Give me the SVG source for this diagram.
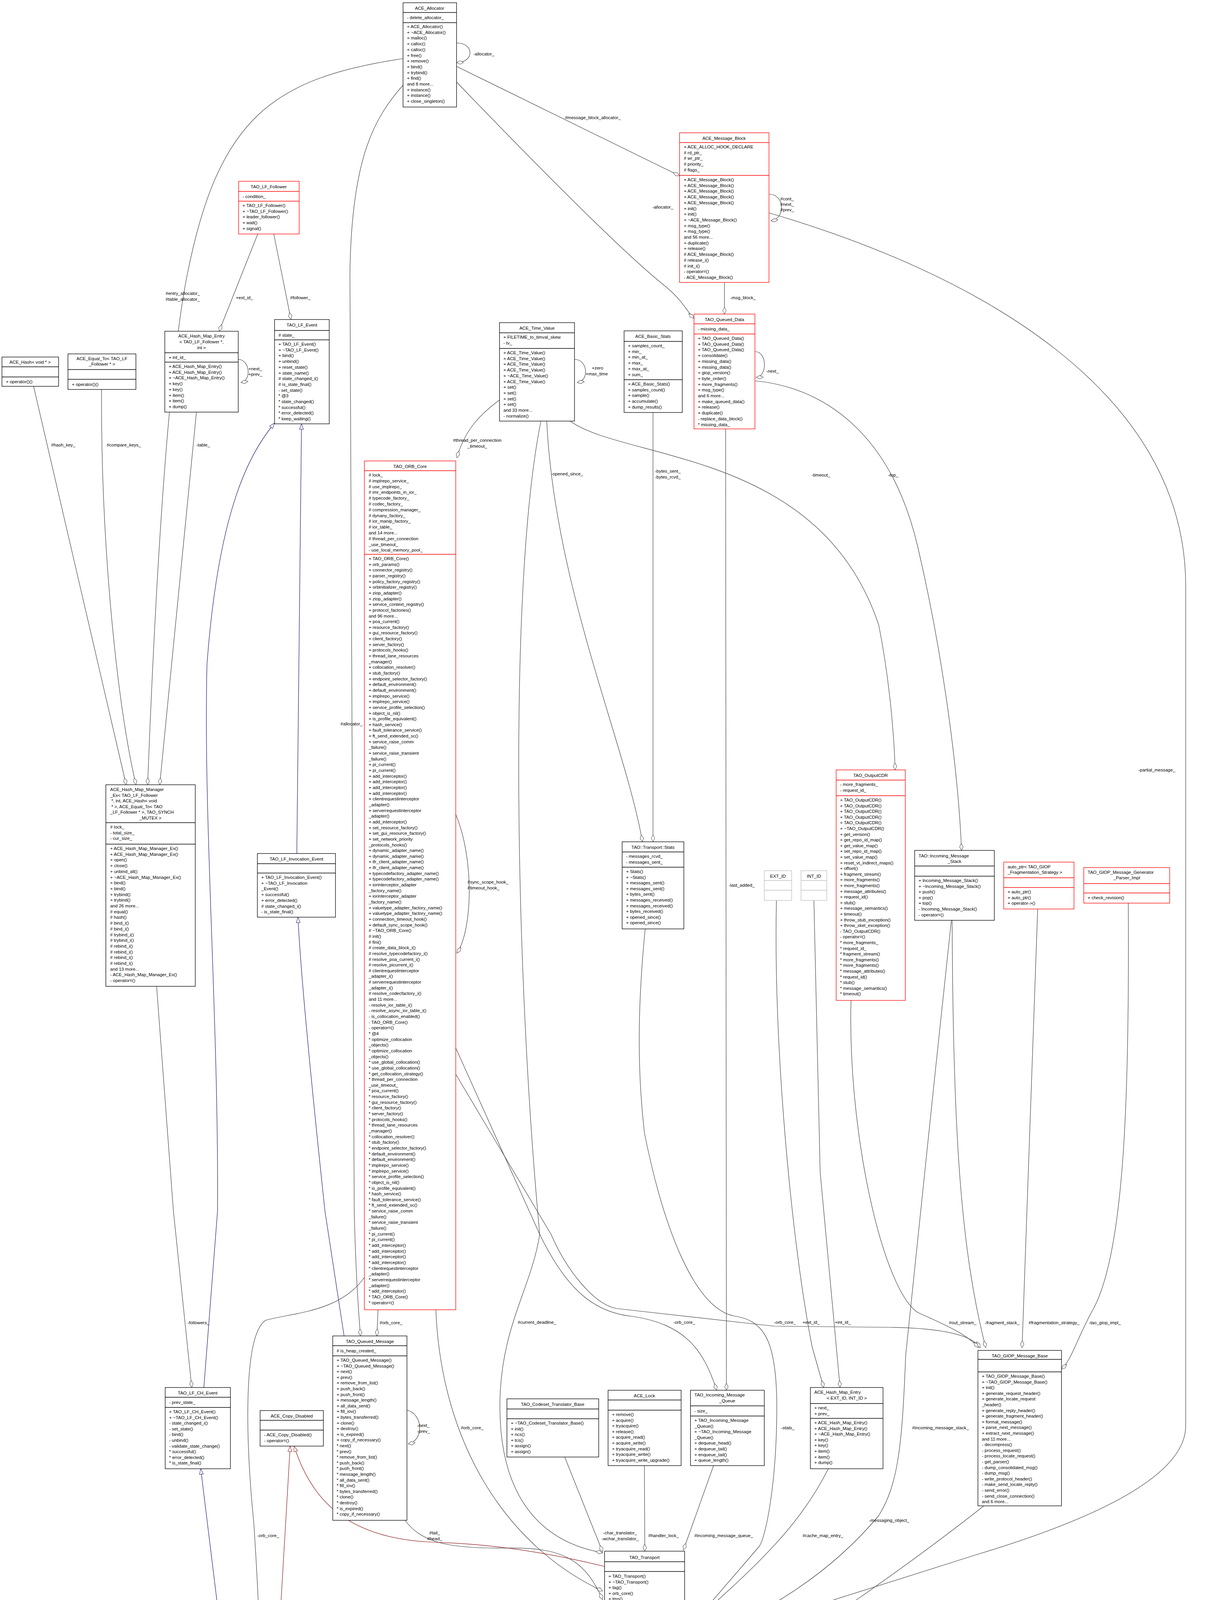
<svg xmlns="http://www.w3.org/2000/svg" width="3152" height="5032" viewBox="0 0 3152 5032">
<style>
text{font-family:"Liberation Sans",Arial,sans-serif;font-size:11.5px;fill:#000}
.t{text-anchor:middle}
.b{fill:#fff;stroke:#000;stroke-width:1.3}
.r{fill:#fff;stroke:#ff0000;stroke-width:1.3}
.g{fill:#bfbfbf;stroke:#000;stroke-width:1.3}
.x{fill:#fff;stroke:#bfbfbf;stroke-width:1.3}
.sb{stroke:#000;stroke-width:1.3}
.sr{stroke:#ff0000;stroke-width:1.3}
.sx{stroke:#bfbfbf;stroke-width:1.3}
.e{fill:none;stroke:#404040;stroke-width:1.2;marker-end:url(#dia)}
.eb{fill:none;stroke:#191970;stroke-width:1.2;marker-end:url(#tb)}
.er{fill:none;stroke:#8b1a1a;stroke-width:1.2;marker-end:url(#tr)}
.l{font-size:11.5px}
.lm{font-size:11.5px;text-anchor:middle}
</style>
<defs>
<marker id="dia" markerUnits="userSpaceOnUse" markerWidth="20" markerHeight="12" viewBox="-1 -6 20 12" refX="18" refY="0" orient="auto"><path d="M0,0 L9,-4.5 L18,0 L9,4.5 z" fill="#fff" stroke="#404040" stroke-width="1"/></marker>
<marker id="tb" markerUnits="userSpaceOnUse" markerWidth="16" markerHeight="12" viewBox="-1 -6 16 12" refX="14" refY="0" orient="auto"><path d="M0,-5 L14,0 L0,5 z" fill="#fff" stroke="#191970" stroke-width="1"/></marker>
<marker id="tr" markerUnits="userSpaceOnUse" markerWidth="16" markerHeight="12" viewBox="-1 -6 16 12" refX="14" refY="0" orient="auto"><path d="M0,-5 L14,0 L0,5 z" fill="#fff" stroke="#8b1a1a" stroke-width="1"/></marker>
</defs>
<rect width="3152" height="5032" fill="#fff"/>

<g id="connectors">
<path class="e" d="M1169,110 C1215,110 1215,160 1169,160"/>
<text class="l" x="1212" y="142">-allocator_</text>
<path class="e" d="M1169,170 L1740,450"/>
<text class="lm" x="1518" y="305">#message_block_allocator_</text>
<path class="e" d="M1169,210 C1400,450 1600,650 1700,730 C1750,770 1760,800 1777,815"/>
<text class="lm" x="1697" y="534">-allocator_</text>
<path class="e" d="M1032,150 C700,200 560,300 480,700 C420,1000 390,1700 378,2009"/>
<text class="l" x="424" y="755">#entry_allocator_</text><text class="l" x="424" y="770">#table_allocator_</text>
<path class="e" d="M1032,218 C960,300 900,400 896,700 L907,3100 C912,3300 920,3380 923,3420"/>
<text class="lm" x="900" y="1857">#allocator_</text>
<path class="e" d="M1969,497 C2010,497 2012,560 1974,565"/>
<text class="l" x="1998" y="513">#cont_</text><text class="l" x="1998" y="527">#next_</text><text class="l" x="1998" y="541">#prev_</text>
<path class="e" d="M1855,723 L1855,804"/>
<text class="l" x="1870" y="766">-msg_block_</text>
<path class="e" d="M1933,900 C1965,900 1965,965 1936,966"/>
<text class="l" x="1962" y="954">-next_</text>
<path class="e" d="M1933,975 C2100,990 2280,1100 2350,1400 C2420,1700 2455,2000 2462,2177"/>
<text class="lm" x="2287" y="1220">-top_</text>
<path class="e" d="M1969,545 C2500,700 3036,1000 3036,1500 L3036,3650 C3036,3780 2800,3890 2500,3980 L1758,4215"/>
<text class="lm" x="2962" y="1975">-partial_message_</text>
<path class="e" d="M1858,1098 L1860,3559"/>
<text class="l" x="1866" y="2270">-last_added_</text>
<path class="e" d="M1471,920 C1505,920 1510,975 1478,979"/>
<text class="lm" x="1530" y="946">+zero</text><text class="lm" x="1528" y="961">+max_time</text>
<path class="e" d="M1279,1024 C1230,1060 1190,1100 1170,1172"/>
<text class="lm" x="1222" y="1131">#thread_per_connection</text><text class="lm" x="1222" y="1146">_timeout_</text>
<path class="e" d="M1400,1078 C1420,1500 1600,1900 1645,2155"/>
<text class="lm" x="1452" y="1217">-opened_since_</text>
<path class="e" d="M1672,1056 L1672,2155"/>
<text class="l" x="1677" y="1210">-bytes_sent_</text><text class="l" x="1677" y="1225">-bytes_rcvd_</text>
<path class="e" d="M1460,1078 C1600,1180 2100,1150 2250,1600 C2280,1750 2290,1900 2292,1971"/>
<text class="lm" x="2102" y="1220">-timeout_</text>
<path class="e" d="M1385,1078 C1300,1500 1320,2500 1382,3160 C1360,3300 1280,3400 1280,3600 C1280,3850 1400,3950 1543,3975"/>
<text class="lm" x="1375" y="3389">#current_deadline_</text>
<path class="e" d="M1116,3353 C1130,3700 1300,3960 1543,4073"/>
<text class="lm" x="1209" y="3659">#orb_core_</text>
<path class="e" d="M968,3353 L965,3420"/>
<text class="l" x="972" y="3390">#orb_core_</text>
<path class="e" d="M933,3270 C870,3360 750,3360 680,3380 C620,3420 630,3700 650,3900 C670,4200 670,4400 670,4568"/>
<text class="l" x="659" y="3935">-orb_core_</text>
<path class="e" d="M1167,2683 L1382,3160 C1450,3300 1520,3360 1620,3370 C1750,3390 1800,3450 1835,3559"/>
<text class="lm" x="1752" y="3389">-orb_core_</text>
<path class="e" d="M1167,2750 L1411,3160 C1450,3250 1520,3340 1580,3350 L1982,3395 L2280,3398 C2420,3400 2490,3420 2510,3450"/>
<text class="lm" x="2010" y="3389">-orb_core_</text>
<path class="e" d="M1652,2378 C1630,2600 1634,2760 1650,2900 C1700,3150 1780,3350 1880,3369 C1950,3380 1989,3420 1989,3600 C1989,3800 1960,3940 1943,3960 L1758,4175"/>
<text class="l" x="2000" y="3659">-stats_</text>
<path class="e" d="M1988,2305 C1980,2700 2030,3200 2080,3450 L2109,3552"/>
<text class="lm" x="2077" y="3389">+ext_id_</text>
<path class="e" d="M2084,2305 L2100,3000 L2151,3552"/>
<text class="lm" x="2158" y="3389">+int_id_</text>
<path class="e" d="M2121,3760 C2050,3900 1950,4000 1758,4167"/>
<text class="lm" x="2107" y="3935">#cache_map_entry_</text>
<path class="e" d="M1827,3752 L1750,3968"/>
<text class="lm" x="1853" y="3935">#incoming_message_queue_</text>
<path class="e" d="M1650,3752 L1651,3971"/>
<text class="lm" x="1699" y="3935">#handler_lock_</text>
<path class="e" d="M1446,3730 L1543,3973"/>
<text class="lm" x="1588" y="3928">-char_translator_</text><text class="lm" x="1588" y="3943">-wchar_translator_</text>
<path class="e" d="M2179,2561 C2170,2900 2260,3300 2350,3360 C2440,3400 2480,3420 2505,3450"/>
<text class="lm" x="2465" y="3390">#out_stream_</text>
<path class="e" d="M2438,2356 C2440,2900 2460,3200 2524,3450"/>
<text class="lm" x="2566" y="3390">-fragment_stack_</text>
<path class="e" d="M2436,2356 L2393,2760 L2319,3470 C2310,3700 2300,3800 2250,3880 C2150,4000 2000,4120 1758,4211"/>
<text class="lm" x="2408" y="3659">#incoming_message_stack_</text>
<path class="e" d="M2657,2327 L2617,3450"/>
<text class="lm" x="2699" y="3390">#fragmentation_strategy_</text>
<path class="e" d="M2889,2312 C2892,2800 2880,3200 2800,3350 C2760,3420 2745,3480 2718,3505"/>
<text class="lm" x="2829" y="3390">-tao_giop_impl_</text>
<path class="e" d="M2519,3855 C2400,3950 2000,4250 1758,4356"/>
<text class="lm" x="2277" y="3896">-messaging_object_</text>
<path class="e" d="M1042,3610 C1085,3620 1085,3690 1045,3696"/>
<text class="l" x="1068" y="3653">-next_</text><text class="l" x="1068" y="3668">-prev_</text>
<path class="e" d="M1037,3892 C1080,3950 1150,3965 1300,3963 C1450,3960 1500,4000 1543,4095"/>
<text class="lm" x="1113" y="3928">#tail_</text><text class="lm" x="1113" y="3943">#head_</text>
<path class="e" d="M1543,4375 C1400,4450 1200,4540 1100,4580 C950,4640 850,4700 790,4740"/>
<text class="lm" x="1340" y="4539">-transport_</text>
<path class="e" d="M1368,4752 C1350,4600 1380,4530 1420,4510 C1470,4490 1520,4420 1542,4380"/>
<text class="lm" x="1438" y="4539">#transport_timer_</text>
<path class="e" d="M1548,4420 L1406,4752"/>
<text class="lm" x="1544" y="4539">-transport_</text>
<path class="e" d="M1621,4679 L1615,4503"/>
<text class="lm" x="1637" y="4539">#tms_</text>
<path class="e" d="M1659,4503 L1645,4679"/>
<text class="lm" x="1695" y="4539">#transport_</text>
<path class="e" d="M1753,4500 L1824,4686"/>
<text class="lm" x="1805" y="4539">#transport_</text>
<path class="e" d="M1880,4686 C1880,4550 1820,4420 1758,4360"/>
<text class="lm" x="1883" y="4539">#ws_</text>
<path class="e" d="M660,599 L561,848"/>
<text class="lm" x="626" y="766">+ext_id_</text>
<path class="e" d="M701,599 L745,818"/>
<text class="lm" x="769" y="766">#follower_</text>
<path class="e" d="M610,920 C640,920 645,975 617,979"/>
<text class="l" x="636" y="948">+next_</text><text class="l" x="636" y="962">+prev_</text>
<path class="e" d="M86,989 L323,2009"/>
<text class="lm" x="162" y="1143">#hash_key_</text>
<path class="e" d="M260,997 C258,1400 300,1800 348,2009"/>
<text class="lm" x="317" y="1143">#compare_keys_</text>
<path class="e" d="M503,1055 L409,2009"/>
<text class="lm" x="520" y="1143">-table_</text>
<path class="e" d="M401,2525 L444,3100 L491,3552"/>
<text class="lm" x="508" y="3390">-followers_</text>
<path class="e" d="M1167,2085 C1215,2200 1210,2380 1170,2440"/>
<text class="l" x="1197" y="2262">#sync_scope_hook_</text><text class="l" x="1197" y="2277">#timeout_hook_</text>
<path class="eb" d="M760,2185 C762,1700 770,1300 772,1085"/>
<path class="eb" d="M522,3552 L557,3100 C560,2600 520,2100 530,1700 C560,1300 640,1160 703,1083"/>
<path class="eb" d="M881,3420 L832,3100 C800,2800 770,2500 763,2348"/>
<path class="eb" d="M613,4568 L514,3760"/>
<path class="eb" d="M1375,4752 L1340,4335"/>
<path class="er" d="M692,4568 L743,3702"/>
<path class="er" d="M1548,4010 C1300,3950 1150,3950 1110,3948 C900,3940 800,3850 753,3702"/>
</g>

<g id="ACE_Allocator"><rect class="b" x="1032" y="7" width="137" height="267"/>
<text class="t" x="1100" y="25">ACE_Allocator</text><line class="sb" x1="1032" y1="32" x2="1169" y2="32"/><line class="sb" x1="1032" y1="58" x2="1169" y2="58"/>
<text x="1042" y="49">- delete_allocator_</text>
<text x="1042" y="72"><tspan x="1042" dy="0">+ ACE_Allocator()</tspan><tspan x="1042" dy="14.7">+ ~ACE_Allocator()</tspan><tspan x="1042" dy="14.7">+ malloc()</tspan><tspan x="1042" dy="14.7">+ calloc()</tspan><tspan x="1042" dy="14.7">+ calloc()</tspan><tspan x="1042" dy="14.7">+ free()</tspan><tspan x="1042" dy="14.7">+ remove()</tspan><tspan x="1042" dy="14.7">+ bind()</tspan><tspan x="1042" dy="14.7">+ trybind()</tspan><tspan x="1042" dy="14.7">+ find()</tspan><tspan x="1042" dy="14.7">and 8 more...</tspan><tspan x="1042" dy="14.7">+ instance()</tspan><tspan x="1042" dy="14.7">+ instance()</tspan><tspan x="1042" dy="14.7">+ close_singleton()</tspan></text></g>

<g id="ACE_Message_Block"><rect class="r" x="1740" y="340" width="229" height="383"/>
<text class="t" x="1854" y="358">ACE_Message_Block</text><line class="sr" x1="1740" y1="365" x2="1969" y2="365"/><line class="sr" x1="1740" y1="449" x2="1969" y2="449"/>
<text x="1751" y="380"><tspan x="1751" dy="0">+ ACE_ALLOC_HOOK_DECLARE</tspan><tspan x="1751" dy="14.7"># rd_ptr_</tspan><tspan x="1751" dy="14.7"># wr_ptr_</tspan><tspan x="1751" dy="14.7"># priority_</tspan><tspan x="1751" dy="14.7"># flags_</tspan></text>
<text x="1751" y="464"><tspan x="1751" dy="0">+ ACE_Message_Block()</tspan><tspan x="1751" dy="14.7">+ ACE_Message_Block()</tspan><tspan x="1751" dy="14.7">+ ACE_Message_Block()</tspan><tspan x="1751" dy="14.7">+ ACE_Message_Block()</tspan><tspan x="1751" dy="14.7">+ ACE_Message_Block()</tspan><tspan x="1751" dy="14.7">+ init()</tspan><tspan x="1751" dy="14.7">+ init()</tspan><tspan x="1751" dy="14.7">+ ~ACE_Message_Block()</tspan><tspan x="1751" dy="14.7">+ msg_type()</tspan><tspan x="1751" dy="14.7">+ msg_type()</tspan><tspan x="1751" dy="14.7">and 56 more...</tspan><tspan x="1751" dy="14.7">+ duplicate()</tspan><tspan x="1751" dy="14.7">+ release()</tspan><tspan x="1751" dy="14.7"># ACE_Message_Block()</tspan><tspan x="1751" dy="14.7"># release_i()</tspan><tspan x="1751" dy="14.7"># init_i()</tspan><tspan x="1751" dy="14.7">- operator=()</tspan><tspan x="1751" dy="14.7">- ACE_Message_Block()</tspan></text></g>

<g id="TAO_Queued_Data"><rect class="r" x="1777" y="804" width="156" height="294"/>
<text class="t" x="1855" y="822">TAO_Queued_Data</text><line class="sr" x1="1777" y1="829" x2="1933" y2="829"/><line class="sr" x1="1777" y1="855" x2="1933" y2="855"/>
<text x="1787" y="846">- missing_data_</text>
<text x="1787" y="870"><tspan x="1787" dy="0">+ TAO_Queued_Data()</tspan><tspan x="1787" dy="14.7">+ TAO_Queued_Data()</tspan><tspan x="1787" dy="14.7">+ TAO_Queued_Data()</tspan><tspan x="1787" dy="14.7">+ consolidate()</tspan><tspan x="1787" dy="14.7">+ missing_data()</tspan><tspan x="1787" dy="14.7">+ missing_data()</tspan><tspan x="1787" dy="14.7">+ giop_version()</tspan><tspan x="1787" dy="14.7">+ byte_order()</tspan><tspan x="1787" dy="14.7">+ more_fragments()</tspan><tspan x="1787" dy="14.7">+ msg_type()</tspan><tspan x="1787" dy="14.7">and 6 more...</tspan><tspan x="1787" dy="14.7">+ make_queued_data()</tspan><tspan x="1787" dy="14.7">+ release()</tspan><tspan x="1787" dy="14.7">+ duplicate()</tspan><tspan x="1787" dy="14.7">- replace_data_block()</tspan><tspan x="1787" dy="14.7">* missing_data_</tspan></text></g>

<g id="ACE_Time_Value"><rect class="b" x="1279" y="826" width="192" height="252"/>
<text class="t" x="1375" y="844">ACE_Time_Value</text><line class="sb" x1="1279" y1="852" x2="1471" y2="852"/><line class="sb" x1="1279" y1="892" x2="1471" y2="892"/>
<text x="1289" y="867"><tspan x="1289" dy="0">+ FILETIME_to_timval_skew</tspan><tspan x="1289" dy="14.7">- tv_</tspan></text>
<text x="1289" y="907"><tspan x="1289" dy="0">+ ACE_Time_Value()</tspan><tspan x="1289" dy="14.7">+ ACE_Time_Value()</tspan><tspan x="1289" dy="14.7">+ ACE_Time_Value()</tspan><tspan x="1289" dy="14.7">+ ACE_Time_Value()</tspan><tspan x="1289" dy="14.7">+ ~ACE_Time_Value()</tspan><tspan x="1289" dy="14.7">+ ACE_Time_Value()</tspan><tspan x="1289" dy="14.7">+ set()</tspan><tspan x="1289" dy="14.7">+ set()</tspan><tspan x="1289" dy="14.7">+ set()</tspan><tspan x="1289" dy="14.7">+ set()</tspan><tspan x="1289" dy="14.7">and 33 more...</tspan><tspan x="1289" dy="14.7">- normalize()</tspan></text></g>

<g id="ACE_Basic_Stats"><rect class="b" x="1598" y="847" width="149" height="209"/>
<text class="t" x="1672" y="865">ACE_Basic_Stats</text><line class="sb" x1="1598" y1="874" x2="1747" y2="874"/><line class="sb" x1="1598" y1="972" x2="1747" y2="972"/>
<text x="1608" y="889"><tspan x="1608" dy="0">+ samples_count_</tspan><tspan x="1608" dy="14.7">+ min_</tspan><tspan x="1608" dy="14.7">+ min_at_</tspan><tspan x="1608" dy="14.7">+ max_</tspan><tspan x="1608" dy="14.7">+ max_at_</tspan><tspan x="1608" dy="14.7">+ sum_</tspan></text>
<text x="1608" y="987"><tspan x="1608" dy="0">+ ACE_Basic_Stats()</tspan><tspan x="1608" dy="14.7">+ samples_count()</tspan><tspan x="1608" dy="14.7">+ sample()</tspan><tspan x="1608" dy="14.7">+ accumulate()</tspan><tspan x="1608" dy="14.7">+ dump_results()</tspan></text></g>

<g id="TAO_LF_Follower"><rect class="r" x="611" y="464" width="155" height="135"/>
<text class="t" x="688" y="482">TAO_LF_Follower</text><line class="sr" x1="611" y1="490" x2="766" y2="490"/><line class="sr" x1="611" y1="515" x2="766" y2="515"/>
<text x="621" y="507">- condition_</text>
<text x="621" y="530"><tspan x="621" dy="0">+ TAO_LF_Follower()</tspan><tspan x="621" dy="14.7">+ ~TAO_LF_Follower()</tspan><tspan x="621" dy="14.7">+ leader_follower()</tspan><tspan x="621" dy="14.7">+ wait()</tspan><tspan x="621" dy="14.7">+ signal()</tspan></text></g>

<g id="ACE_Hash_void"><rect class="b" x="5" y="914" width="145" height="75"/>
<text class="t" x="77" y="931">ACE_Hash&lt; void * &gt;</text><line class="sb" x1="5" y1="939" x2="150" y2="939"/><line class="sb" x1="5" y1="965" x2="150" y2="965"/>
<text x="15" y="981">+ operator()()</text></g>

<g id="ACE_Equal_To"><rect class="b" x="174" y="906" width="174" height="91"/>
<text class="t" x="261" y="922">ACE_Equal_To&lt; TAO_LF</text><text class="t" x="261" y="936">_Follower * &gt;</text><line class="sb" x1="174" y1="946" x2="348" y2="946"/><line class="sb" x1="174" y1="971" x2="348" y2="971"/>
<text x="184" y="988">+ operator()()</text></g>

<g id="ACE_Hash_Map_Entry_LF"><rect class="b" x="422" y="848" width="188" height="207"/>
<text class="t" x="516" y="864">ACE_Hash_Map_Entry</text><text class="t" x="516" y="879">&lt; TAO_LF_Follower *,</text><text class="t" x="516" y="894">int &gt;</text>
<line class="sb" x1="422" y1="903" x2="610" y2="903"/><line class="sb" x1="422" y1="927" x2="610" y2="927"/>
<text x="432" y="919">+ int_id_</text>
<text x="432" y="942"><tspan x="432" dy="0">+ ACE_Hash_Map_Entry()</tspan><tspan x="432" dy="14.7">+ ACE_Hash_Map_Entry()</tspan><tspan x="432" dy="14.7">+ ~ACE_Hash_Map_Entry()</tspan><tspan x="432" dy="14.7">+ key()</tspan><tspan x="432" dy="14.7">+ key()</tspan><tspan x="432" dy="14.7">+ item()</tspan><tspan x="432" dy="14.7">+ item()</tspan><tspan x="432" dy="14.7">+ dump()</tspan></text></g>

<g id="TAO_LF_Event"><rect class="b" x="703" y="818" width="140" height="267"/>
<text class="t" x="773" y="836">TAO_LF_Event</text><line class="sb" x1="703" y1="846" x2="843" y2="846"/><line class="sb" x1="703" y1="870" x2="843" y2="870"/>
<text x="713" y="862"># state_</text>
<text x="713" y="885"><tspan x="713" dy="0">+ TAO_LF_Event()</tspan><tspan x="713" dy="14.7">+ ~TAO_LF_Event()</tspan><tspan x="713" dy="14.7">+ bind()</tspan><tspan x="713" dy="14.7">+ unbind()</tspan><tspan x="713" dy="14.7">+ reset_state()</tspan><tspan x="713" dy="14.7">+ state_name()</tspan><tspan x="713" dy="14.7"># state_changed_i()</tspan><tspan x="713" dy="14.7"># is_state_final()</tspan><tspan x="713" dy="14.7">- set_state()</tspan><tspan x="713" dy="14.7">* @3</tspan><tspan x="713" dy="14.7">* state_changed()</tspan><tspan x="713" dy="14.7">* successful()</tspan><tspan x="713" dy="14.7">* error_detected()</tspan><tspan x="713" dy="14.7">* keep_waiting()</tspan></text></g>

<g id="ACE_Hash_Map_Manager_Ex"><rect class="b" x="271" y="2009" width="229" height="516"/>
<text x="282" y="2025"><tspan x="282" dy="0">ACE_Hash_Map_Manager</tspan><tspan x="282" dy="14.6">_Ex&lt; TAO_LF_Follower</tspan><tspan x="282" dy="14.6"> *, int, ACE_Hash&lt; void</tspan><tspan x="282" dy="14.6"> * &gt;, ACE_Equal_To&lt; TAO</tspan><tspan x="282" dy="14.6">_LF_Follower * &gt;, TAO_SYNCH</tspan></text><text class="t" x="385" y="2098">_MUTEX &gt;</text>
<line class="sb" x1="271" y1="2106" x2="500" y2="2106"/><line class="sb" x1="271" y1="2161" x2="500" y2="2161"/>
<text x="282" y="2121"><tspan x="282" dy="0"># lock_</tspan><tspan x="282" dy="14.7">- total_size_</tspan><tspan x="282" dy="14.7">- cur_size_</tspan></text>
<text x="282" y="2176"><tspan x="282" dy="0">+ ACE_Hash_Map_Manager_Ex()</tspan><tspan x="282" dy="14.7">+ ACE_Hash_Map_Manager_Ex()</tspan><tspan x="282" dy="14.7">+ open()</tspan><tspan x="282" dy="14.7">+ close()</tspan><tspan x="282" dy="14.7">+ unbind_all()</tspan><tspan x="282" dy="14.7">+ ~ACE_Hash_Map_Manager_Ex()</tspan><tspan x="282" dy="14.7">+ bind()</tspan><tspan x="282" dy="14.7">+ bind()</tspan><tspan x="282" dy="14.7">+ trybind()</tspan><tspan x="282" dy="14.7">+ trybind()</tspan><tspan x="282" dy="14.7">and 26 more...</tspan><tspan x="282" dy="14.7"># equal()</tspan><tspan x="282" dy="14.7"># hash()</tspan><tspan x="282" dy="14.7"># bind_i()</tspan><tspan x="282" dy="14.7"># bind_i()</tspan><tspan x="282" dy="14.7"># trybind_i()</tspan><tspan x="282" dy="14.7"># trybind_i()</tspan><tspan x="282" dy="14.7"># rebind_i()</tspan><tspan x="282" dy="14.7"># rebind_i()</tspan><tspan x="282" dy="14.7"># rebind_i()</tspan><tspan x="282" dy="14.7"># rebind_i()</tspan><tspan x="282" dy="14.7">and 13 more...</tspan><tspan x="282" dy="14.7">- ACE_Hash_Map_Manager_Ex()</tspan><tspan x="282" dy="14.7">- operator=()</tspan></text></g>

<g id="TAO_LF_Invocation_Event"><rect class="b" x="659" y="2185" width="200" height="163"/>
<text class="t" x="759" y="2203">TAO_LF_Invocation_Event</text><line class="sb" x1="659" y1="2211" x2="859" y2="2211"/><line class="sb" x1="659" y1="2235" x2="859" y2="2235"/>
<text x="669" y="2250"><tspan x="669" dy="0">+ TAO_LF_Invocation_Event()</tspan><tspan x="669" dy="14.7">+ ~TAO_LF_Invocation</tspan><tspan x="669" dy="14.7">_Event()</tspan><tspan x="669" dy="14.7">+ successful()</tspan><tspan x="669" dy="14.7">+ error_detected()</tspan><tspan x="669" dy="14.7"># state_changed_i()</tspan><tspan x="669" dy="14.7">- is_state_final()</tspan></text></g>

<g id="TAO_ORB_Core"><rect class="r" x="933" y="1180" width="234" height="2173"/>
<text class="t" x="1050" y="1198">TAO_ORB_Core</text><line class="sr" x1="933" y1="1205" x2="1167" y2="1205"/><line class="sr" x1="933" y1="1419" x2="1167" y2="1419"/>
<text x="944" y="1220"><tspan x="944" dy="0"># lock_</tspan><tspan x="944" dy="14.8"># implrepo_service_</tspan><tspan x="944" dy="14.8"># use_implrepo_</tspan><tspan x="944" dy="14.8"># imr_endpoints_in_ior_</tspan><tspan x="944" dy="14.8"># typecode_factory_</tspan><tspan x="944" dy="14.8"># codec_factory_</tspan><tspan x="944" dy="14.8"># compression_manager_</tspan><tspan x="944" dy="14.8"># dynany_factory_</tspan><tspan x="944" dy="14.8"># ior_manip_factory_</tspan><tspan x="944" dy="14.8"># ior_table_</tspan><tspan x="944" dy="14.8">and 14 more...</tspan><tspan x="944" dy="14.8"># thread_per_connection</tspan><tspan x="944" dy="14.8">_use_timeout_</tspan><tspan x="944" dy="14.8">- use_local_memory_pool_</tspan></text>
<text x="944" y="1434"><tspan x="944" dy="0">+ TAO_ORB_Core()</tspan><tspan x="944" dy="14.65">+ orb_params()</tspan><tspan x="944" dy="14.65">+ connector_registry()</tspan><tspan x="944" dy="14.65">+ parser_registry()</tspan><tspan x="944" dy="14.65">+ policy_factory_registry()</tspan><tspan x="944" dy="14.65">+ orbinitializer_registry()</tspan><tspan x="944" dy="14.65">+ ziop_adapter()</tspan><tspan x="944" dy="14.65">+ ziop_adapter()</tspan><tspan x="944" dy="14.65">+ service_context_registry()</tspan><tspan x="944" dy="14.65">+ protocol_factories()</tspan><tspan x="944" dy="14.65">and 96 more...</tspan><tspan x="944" dy="14.65">+ poa_current()</tspan><tspan x="944" dy="14.65">+ resource_factory()</tspan><tspan x="944" dy="14.65">+ gui_resource_factory()</tspan><tspan x="944" dy="14.65">+ client_factory()</tspan><tspan x="944" dy="14.65">+ server_factory()</tspan><tspan x="944" dy="14.65">+ protocols_hooks()</tspan><tspan x="944" dy="14.65">+ thread_lane_resources</tspan><tspan x="944" dy="14.65">_manager()</tspan><tspan x="944" dy="14.65">+ collocation_resolver()</tspan><tspan x="944" dy="14.65">+ stub_factory()</tspan><tspan x="944" dy="14.65">+ endpoint_selector_factory()</tspan><tspan x="944" dy="14.65">+ default_environment()</tspan><tspan x="944" dy="14.65">+ default_environment()</tspan><tspan x="944" dy="14.65">+ implrepo_service()</tspan><tspan x="944" dy="14.65">+ implrepo_service()</tspan><tspan x="944" dy="14.65">+ service_profile_selection()</tspan><tspan x="944" dy="14.65">+ object_is_nil()</tspan><tspan x="944" dy="14.65">+ is_profile_equivalent()</tspan><tspan x="944" dy="14.65">+ hash_service()</tspan><tspan x="944" dy="14.65">+ fault_tolerance_service()</tspan><tspan x="944" dy="14.65">+ ft_send_extended_sc()</tspan><tspan x="944" dy="14.65">+ service_raise_comm</tspan><tspan x="944" dy="14.65">_failure()</tspan><tspan x="944" dy="14.65">+ service_raise_transient</tspan><tspan x="944" dy="14.65">_failure()</tspan><tspan x="944" dy="14.65">+ pi_current()</tspan><tspan x="944" dy="14.65">+ pi_current()</tspan><tspan x="944" dy="14.65">+ add_interceptor()</tspan><tspan x="944" dy="14.65">+ add_interceptor()</tspan><tspan x="944" dy="14.65">+ add_interceptor()</tspan><tspan x="944" dy="14.65">+ add_interceptor()</tspan><tspan x="944" dy="14.65">+ clientrequestinterceptor</tspan><tspan x="944" dy="14.65">_adapter()</tspan><tspan x="944" dy="14.65">+ serverrequestinterceptor</tspan><tspan x="944" dy="14.65">_adapter()</tspan><tspan x="944" dy="14.65">+ add_interceptor()</tspan><tspan x="944" dy="14.65">+ set_resource_factory()</tspan><tspan x="944" dy="14.65">+ set_gui_resource_factory()</tspan><tspan x="944" dy="14.65">+ set_network_priority</tspan><tspan x="944" dy="14.65">_protocols_hooks()</tspan><tspan x="944" dy="14.65">+ dynamic_adapter_name()</tspan><tspan x="944" dy="14.65">+ dynamic_adapter_name()</tspan><tspan x="944" dy="14.65">+ ifr_client_adapter_name()</tspan><tspan x="944" dy="14.65">+ ifr_client_adapter_name()</tspan><tspan x="944" dy="14.65">+ typecodefactory_adapter_name()</tspan><tspan x="944" dy="14.65">+ typecodefactory_adapter_name()</tspan><tspan x="944" dy="14.65">+ iorinterceptor_adapter</tspan><tspan x="944" dy="14.65">_factory_name()</tspan><tspan x="944" dy="14.65">+ iorinterceptor_adapter</tspan><tspan x="944" dy="14.65">_factory_name()</tspan><tspan x="944" dy="14.65">+ valuetype_adapter_factory_name()</tspan><tspan x="944" dy="14.65">+ valuetype_adapter_factory_name()</tspan><tspan x="944" dy="14.65">+ connection_timeout_hook()</tspan><tspan x="944" dy="14.65">+ default_sync_scope_hook()</tspan><tspan x="944" dy="14.65"># ~TAO_ORB_Core()</tspan><tspan x="944" dy="14.65"># init()</tspan><tspan x="944" dy="14.65"># fini()</tspan><tspan x="944" dy="14.65"># create_data_block_i()</tspan><tspan x="944" dy="14.65"># resolve_typecodefactory_i()</tspan><tspan x="944" dy="14.65"># resolve_poa_current_i()</tspan><tspan x="944" dy="14.65"># resolve_picurrent_i()</tspan><tspan x="944" dy="14.65"># clientrequestinterceptor</tspan><tspan x="944" dy="14.65">_adapter_i()</tspan><tspan x="944" dy="14.65"># serverrequestinterceptor</tspan><tspan x="944" dy="14.65">_adapter_i()</tspan><tspan x="944" dy="14.65"># resolve_codecfactory_i()</tspan><tspan x="944" dy="14.65">and 11 more...</tspan><tspan x="944" dy="14.65">- resolve_ior_table_i()</tspan><tspan x="944" dy="14.65">- resolve_async_ior_table_i()</tspan><tspan x="944" dy="14.65">- is_collocation_enabled()</tspan><tspan x="944" dy="14.65">- TAO_ORB_Core()</tspan><tspan x="944" dy="14.65">- operator=()</tspan><tspan x="944" dy="14.65">* @4</tspan><tspan x="944" dy="14.65">* optimize_collocation</tspan><tspan x="944" dy="14.65">_objects()</tspan><tspan x="944" dy="14.65">* optimize_collocation</tspan><tspan x="944" dy="14.65">_objects()</tspan><tspan x="944" dy="14.65">* use_global_collocation()</tspan><tspan x="944" dy="14.65">* use_global_collocation()</tspan><tspan x="944" dy="14.65">* get_collocation_strategy()</tspan><tspan x="944" dy="14.65">* thread_per_connection</tspan><tspan x="944" dy="14.65">_use_timeout_</tspan><tspan x="944" dy="14.65">* poa_current()</tspan><tspan x="944" dy="14.65">* resource_factory()</tspan><tspan x="944" dy="14.65">* gui_resource_factory()</tspan><tspan x="944" dy="14.65">* client_factory()</tspan><tspan x="944" dy="14.65">* server_factory()</tspan><tspan x="944" dy="14.65">* protocols_hooks()</tspan><tspan x="944" dy="14.65">* thread_lane_resources</tspan><tspan x="944" dy="14.65">_manager()</tspan><tspan x="944" dy="14.65">* collocation_resolver()</tspan><tspan x="944" dy="14.65">* stub_factory()</tspan><tspan x="944" dy="14.65">* endpoint_selector_factory()</tspan><tspan x="944" dy="14.65">* default_environment()</tspan><tspan x="944" dy="14.65">* default_environment()</tspan><tspan x="944" dy="14.65">* implrepo_service()</tspan><tspan x="944" dy="14.65">* implrepo_service()</tspan><tspan x="944" dy="14.65">* service_profile_selection()</tspan><tspan x="944" dy="14.65">* object_is_nil()</tspan><tspan x="944" dy="14.65">* is_profile_equivalent()</tspan><tspan x="944" dy="14.65">* hash_service()</tspan><tspan x="944" dy="14.65">* fault_tolerance_service()</tspan><tspan x="944" dy="14.65">* ft_send_extended_sc()</tspan><tspan x="944" dy="14.65">* service_raise_comm</tspan><tspan x="944" dy="14.65">_failure()</tspan><tspan x="944" dy="14.65">* service_raise_transient</tspan><tspan x="944" dy="14.65">_failure()</tspan><tspan x="944" dy="14.65">* pi_current()</tspan><tspan x="944" dy="14.65">* pi_current()</tspan><tspan x="944" dy="14.65">* add_interceptor()</tspan><tspan x="944" dy="14.65">* add_interceptor()</tspan><tspan x="944" dy="14.65">* add_interceptor()</tspan><tspan x="944" dy="14.65">* add_interceptor()</tspan><tspan x="944" dy="14.65">* clientrequestinterceptor</tspan><tspan x="944" dy="14.65">_adapter()</tspan><tspan x="944" dy="14.65">* serverrequestinterceptor</tspan><tspan x="944" dy="14.65">_adapter()</tspan><tspan x="944" dy="14.65">* add_interceptor()</tspan><tspan x="944" dy="14.65">* TAO_ORB_Core()</tspan><tspan x="944" dy="14.65">* operator=()</tspan></text></g>

<g id="TAO_LF_CH_Event"><rect class="b" x="423" y="3552" width="167" height="208"/>
<text class="t" x="506" y="3570">TAO_LF_CH_Event</text><line class="sb" x1="423" y1="3577" x2="590" y2="3577"/><line class="sb" x1="423" y1="3603" x2="590" y2="3603"/>
<text x="433" y="3594">- prev_state_</text>
<text x="433" y="3618"><tspan x="433" dy="0">+ TAO_LF_CH_Event()</tspan><tspan x="433" dy="14.6">+ ~TAO_LF_CH_Event()</tspan><tspan x="433" dy="14.6">- state_changed_i()</tspan><tspan x="433" dy="14.6">- set_state()</tspan><tspan x="433" dy="14.6">- bind()</tspan><tspan x="433" dy="14.6">- unbind()</tspan><tspan x="433" dy="14.6">- validate_state_change()</tspan><tspan x="433" dy="14.6">* successful()</tspan><tspan x="433" dy="14.6">* error_detected()</tspan><tspan x="433" dy="14.6">* is_state_final()</tspan></text></g>

<g id="ACE_Copy_Disabled"><rect class="b" x="666" y="3611" width="162" height="91"/>
<text class="t" x="747" y="3629">ACE_Copy_Disabled</text><line class="sb" x1="666" y1="3636" x2="828" y2="3636"/><line class="sb" x1="666" y1="3661" x2="828" y2="3661"/>
<text x="676" y="3677"><tspan x="676" dy="0">- ACE_Copy_Disabled()</tspan><tspan x="676" dy="14.6">- operator=()</tspan></text></g>

<g id="TAO_Queued_Message"><rect class="b" x="852" y="3420" width="190" height="472"/>
<text class="t" x="947" y="3438">TAO_Queued_Message</text><line class="sb" x1="852" y1="3445" x2="1042" y2="3445"/><line class="sb" x1="852" y1="3471" x2="1042" y2="3471"/>
<text x="862" y="3462"># is_heap_created_</text>
<text x="862" y="3486"><tspan x="862" dy="0">+ TAO_Queued_Message()</tspan><tspan x="862" dy="14.6">+ ~TAO_Queued_Message()</tspan><tspan x="862" dy="14.6">+ next()</tspan><tspan x="862" dy="14.6">+ prev()</tspan><tspan x="862" dy="14.6">+ remove_from_list()</tspan><tspan x="862" dy="14.6">+ push_back()</tspan><tspan x="862" dy="14.6">+ push_front()</tspan><tspan x="862" dy="14.6">+ message_length()</tspan><tspan x="862" dy="14.6">+ all_data_sent()</tspan><tspan x="862" dy="14.6">+ fill_iov()</tspan><tspan x="862" dy="14.6">+ bytes_transferred()</tspan><tspan x="862" dy="14.6">+ clone()</tspan><tspan x="862" dy="14.6">+ destroy()</tspan><tspan x="862" dy="14.6">+ is_expired()</tspan><tspan x="862" dy="14.6">+ copy_if_necessary()</tspan><tspan x="862" dy="14.6">* next()</tspan><tspan x="862" dy="14.6">* prev()</tspan><tspan x="862" dy="14.6">* remove_from_list()</tspan><tspan x="862" dy="14.6">* push_back()</tspan><tspan x="862" dy="14.6">* push_front()</tspan><tspan x="862" dy="14.6">* message_length()</tspan><tspan x="862" dy="14.6">* all_data_sent()</tspan><tspan x="862" dy="14.6">* fill_iov()</tspan><tspan x="862" dy="14.6">* bytes_transferred()</tspan><tspan x="862" dy="14.6">* clone()</tspan><tspan x="862" dy="14.6">* destroy()</tspan><tspan x="862" dy="14.6">* is_expired()</tspan><tspan x="862" dy="14.6">* copy_if_necessary()</tspan></text></g>

<g id="TAO_Transport"><rect class="b" x="1548" y="3971" width="205" height="532"/>
<text class="t" x="1650" y="3991">TAO_Transport</text><line class="sb" x1="1548" y1="3998" x2="1753" y2="3998"/><line class="sb" x1="1548" y1="4023" x2="1753" y2="4023"/>
<text x="1558" y="4039"><tspan x="1558" dy="0">+ TAO_Transport()</tspan><tspan x="1558" dy="14.5">+ ~TAO_Transport()</tspan><tspan x="1558" dy="14.5">+ tag()</tspan><tspan x="1558" dy="14.5">+ orb_core()</tspan><tspan x="1558" dy="14.5">+ tms()</tspan><tspan x="1558" dy="14.5">+ wait_strategy()</tspan><tspan x="1558" dy="14.5">+ handle_output()</tspan><tspan x="1558" dy="14.5">+ bidirectional_flag()</tspan><tspan x="1558" dy="14.5">+ bidirectional_flag()</tspan><tspan x="1558" dy="14.5">+ cache_map_entry()</tspan><tspan x="1558" dy="14.5">and 15 more...</tspan><tspan x="1558" dy="14.5">+ idle_after_send()</tspan><tspan x="1558" dy="14.5">+ idle_after_reply()</tspan><tspan x="1558" dy="14.5">+ close_connection()</tspan><tspan x="1558" dy="14.5">* TAO_Reactive_Flushing</tspan><tspan x="1558" dy="14.5">_Strategy</tspan><tspan x="1558" dy="14.5">* TAO_Leader_Follower</tspan><tspan x="1558" dy="14.5">_Flushing_Strategy</tspan><tspan x="1558" dy="14.5">* TAO_Thread_Per_Connection</tspan><tspan x="1558" dy="14.5">_Handler</tspan><tspan x="1558" dy="14.5">* tag_</tspan><tspan x="1558" dy="14.5">* bidirectional_flag_</tspan><tspan x="1558" dy="14.5">* opening_connection</tspan><tspan x="1558" dy="14.5">_role_</tspan><tspan x="1558" dy="14.5">* flush_timer_id_</tspan><tspan x="1558" dy="14.5">* id_</tspan><tspan x="1558" dy="14.5">* purging_order_</tspan><tspan x="1558" dy="14.5">* recv_buffer_size_</tspan><tspan x="1558" dy="14.5">and 84 more...</tspan><tspan x="1558" dy="14.5">* idle_after_send()</tspan><tspan x="1558" dy="14.5">* idle_after_reply()</tspan><tspan x="1558" dy="14.5">* close_connection()</tspan></text></g>

<g id="TAO_Connection_Handler"><rect class="g" x="577" y="4568" width="203" height="457"/>
<text class="t" x="678" y="4586">TAO_Connection_Handler</text><line class="sb" x1="577" y1="4593" x2="780" y2="4593"/><line class="sb" x1="577" y1="4633" x2="780" y2="4633"/>
<text x="587" y="4609"><tspan x="587" dy="0">- connection_pending_</tspan><tspan x="587" dy="14.6">- is_closed_</tspan></text>
<text x="587" y="4648"><tspan x="587" dy="0">+ TAO_Connection_Handler()</tspan><tspan x="587" dy="14.8">+ ~TAO_Connection_Handler()</tspan><tspan x="587" dy="14.8">+ transport()</tspan><tspan x="587" dy="14.8">+ transport()</tspan><tspan x="587" dy="14.8">+ is_closed()</tspan><tspan x="587" dy="14.8">+ is_open()</tspan><tspan x="587" dy="14.8">+ is_timeout()</tspan><tspan x="587" dy="14.8">+ is_connecting()</tspan><tspan x="587" dy="14.8">+ close_connection()</tspan><tspan x="587" dy="14.8">+ handle_input()</tspan><tspan x="587" dy="14.8">and 9 more...</tspan><tspan x="587" dy="14.8"># orb_core()</tspan><tspan x="587" dy="14.8"># shared_open()</tspan><tspan x="587" dy="14.8"># set_socket_option()</tspan><tspan x="587" dy="14.8"># handle_output_eh()</tspan><tspan x="587" dy="14.8"># handle_input_eh()</tspan><tspan x="587" dy="14.8"># handle_input_internal()</tspan><tspan x="587" dy="14.8"># close_connection_eh()</tspan><tspan x="587" dy="14.8"># pre_io_hook()</tspan><tspan x="587" dy="14.8"># pos_io_hook()</tspan><tspan x="587" dy="14.8">* handle_output_eh()</tspan><tspan x="587" dy="14.8">* handle_input_eh()</tspan><tspan x="587" dy="14.8">* handle_input_internal()</tspan><tspan x="587" dy="14.8">* close_connection_eh()</tspan><tspan x="587" dy="14.8">* pre_io_hook()</tspan><tspan x="587" dy="14.8">* pos_io_hook()</tspan></text></g>

<g id="TAO_Transport_Stats"><rect class="b" x="1593" y="2155" width="158" height="223"/>
<text class="t" x="1672" y="2173">TAO::Transport::Stats</text><line class="sb" x1="1593" y1="2181" x2="1751" y2="2181"/><line class="sb" x1="1593" y1="2220" x2="1751" y2="2220"/>
<text x="1603" y="2196"><tspan x="1603" dy="0">- messages_rcvd_</tspan><tspan x="1603" dy="14.6">- messages_sent_</tspan></text>
<text x="1603" y="2235"><tspan x="1603" dy="0">+ Stats()</tspan><tspan x="1603" dy="14.6">+ ~Stats()</tspan><tspan x="1603" dy="14.6">+ messages_sent()</tspan><tspan x="1603" dy="14.6">+ messages_sent()</tspan><tspan x="1603" dy="14.6">+ bytes_sent()</tspan><tspan x="1603" dy="14.6">+ messages_received()</tspan><tspan x="1603" dy="14.6">+ messages_received()</tspan><tspan x="1603" dy="14.6">+ bytes_received()</tspan><tspan x="1603" dy="14.6">+ opened_since()</tspan><tspan x="1603" dy="14.6">+ opened_since()</tspan></text></g>

<g id="EXT_ID"><rect class="x" x="1957" y="2229" width="70" height="76"/>
<text class="t" x="1992" y="2247">EXT_ID</text><line class="sx" x1="1957" y1="2254" x2="2027" y2="2254"/><line class="sx" x1="1957" y1="2279" x2="2027" y2="2279"/></g>
<g id="INT_ID"><rect class="x" x="2051" y="2229" width="66" height="76"/>
<text class="t" x="2084" y="2247">INT_ID</text><line class="sx" x1="2051" y1="2254" x2="2117" y2="2254"/><line class="sx" x1="2051" y1="2279" x2="2117" y2="2279"/></g>

<g id="TAO_OutputCDR"><rect class="r" x="2141" y="1971" width="177" height="590"/>
<text class="t" x="2229" y="1989">TAO_OutputCDR</text><line class="sr" x1="2141" y1="1997" x2="2318" y2="1997"/><line class="sr" x1="2141" y1="2037" x2="2318" y2="2037"/>
<text x="2151" y="2012"><tspan x="2151" dy="0">- more_fragments_</tspan><tspan x="2151" dy="14.6">- request_id_</tspan></text>
<text x="2151" y="2052"><tspan x="2151" dy="0">+ TAO_OutputCDR()</tspan><tspan x="2151" dy="14.6">+ TAO_OutputCDR()</tspan><tspan x="2151" dy="14.6">+ TAO_OutputCDR()</tspan><tspan x="2151" dy="14.6">+ TAO_OutputCDR()</tspan><tspan x="2151" dy="14.6">+ TAO_OutputCDR()</tspan><tspan x="2151" dy="14.6">+ ~TAO_OutputCDR()</tspan><tspan x="2151" dy="14.6">+ get_version()</tspan><tspan x="2151" dy="14.6">+ get_repo_id_map()</tspan><tspan x="2151" dy="14.6">+ get_value_map()</tspan><tspan x="2151" dy="14.6">+ set_repo_id_map()</tspan><tspan x="2151" dy="14.6">+ set_value_map()</tspan><tspan x="2151" dy="14.6">+ reset_vt_indirect_maps()</tspan><tspan x="2151" dy="14.6">+ offset()</tspan><tspan x="2151" dy="14.6">+ fragment_stream()</tspan><tspan x="2151" dy="14.6">+ more_fragments()</tspan><tspan x="2151" dy="14.6">+ more_fragments()</tspan><tspan x="2151" dy="14.6">+ message_attributes()</tspan><tspan x="2151" dy="14.6">+ request_id()</tspan><tspan x="2151" dy="14.6">+ stub()</tspan><tspan x="2151" dy="14.6">+ message_semantics()</tspan><tspan x="2151" dy="14.6">+ timeout()</tspan><tspan x="2151" dy="14.6">+ throw_stub_exception()</tspan><tspan x="2151" dy="14.6">+ throw_skel_exception()</tspan><tspan x="2151" dy="14.6">- TAO_OutputCDR()</tspan><tspan x="2151" dy="14.6">- operator=()</tspan><tspan x="2151" dy="14.6">* more_fragments_</tspan><tspan x="2151" dy="14.6">* request_id_</tspan><tspan x="2151" dy="14.6">* fragment_stream()</tspan><tspan x="2151" dy="14.6">* more_fragments()</tspan><tspan x="2151" dy="14.6">* more_fragments()</tspan><tspan x="2151" dy="14.6">* message_attributes()</tspan><tspan x="2151" dy="14.6">* request_id()</tspan><tspan x="2151" dy="14.6">* stub()</tspan><tspan x="2151" dy="14.6">* message_semantics()</tspan><tspan x="2151" dy="14.6">* timeout()</tspan></text></g>

<g id="TAO_Incoming_Message_Stack"><rect class="b" x="2342" y="2177" width="204" height="179"/>
<text x="2352" y="2195">TAO::Incoming_Message</text><text class="t" x="2444" y="2209">_Stack</text><line class="sb" x1="2342" y1="2217" x2="2546" y2="2217"/><line class="sb" x1="2342" y1="2243" x2="2546" y2="2243"/>
<text x="2352" y="2258"><tspan x="2352" dy="0">+ Incoming_Message_Stack()</tspan><tspan x="2352" dy="14.6">+ ~Incoming_Message_Stack()</tspan><tspan x="2352" dy="14.6">+ push()</tspan><tspan x="2352" dy="14.6">+ pop()</tspan><tspan x="2352" dy="14.6">+ top()</tspan><tspan x="2352" dy="14.6">- Incoming_Message_Stack()</tspan><tspan x="2352" dy="14.6">- operator=()</tspan></text></g>

<g id="auto_ptr_Fragmentation_Strategy"><rect class="r" x="2570" y="2207" width="180" height="120"/>
<text x="2580" y="2223">auto_ptr&lt; TAO_GIOP</text><text x="2580" y="2237">_Fragmentation_Strategy &gt;</text><line class="sr" x1="2570" y1="2247" x2="2750" y2="2247"/><line class="sr" x1="2570" y1="2272" x2="2750" y2="2272"/>
<text x="2580" y="2287"><tspan x="2580" dy="0">+ auto_ptr()</tspan><tspan x="2580" dy="14.6">+ auto_ptr()</tspan><tspan x="2580" dy="14.6">+ operator-&gt;()</tspan></text></g>

<g id="TAO_GIOP_Message_Generator_Parser_Impl"><rect class="r" x="2775" y="2221" width="220" height="91"/>
<text x="2785" y="2237">TAO_GIOP_Message_Generator</text><text class="t" x="2885" y="2251">_Parser_Impl</text><line class="sr" x1="2775" y1="2262" x2="2995" y2="2262"/><line class="sr" x1="2775" y1="2286" x2="2995" y2="2286"/>
<text x="2785" y="2302">+ check_revision()</text></g>

<g id="TAO_Codeset_Translator_Base"><rect class="b" x="1298" y="3581" width="235" height="149"/>
<text class="t" x="1415" y="3599">TAO_Codeset_Translator_Base</text><line class="sb" x1="1298" y1="3607" x2="1533" y2="3607"/><line class="sb" x1="1298" y1="3632" x2="1533" y2="3632"/>
<text x="1308" y="3647"><tspan x="1308" dy="0">+ ~TAO_Codeset_Translator_Base()</tspan><tspan x="1308" dy="14.6">+ init()</tspan><tspan x="1308" dy="14.6">+ ncs()</tspan><tspan x="1308" dy="14.6">+ tcs()</tspan><tspan x="1308" dy="14.6">+ assign()</tspan><tspan x="1308" dy="14.6">+ assign()</tspan></text></g>

<g id="ACE_Lock"><rect class="b" x="1557" y="3559" width="187" height="193"/>
<text class="t" x="1650" y="3577">ACE_Lock</text><line class="sb" x1="1557" y1="3584" x2="1744" y2="3584"/><line class="sb" x1="1557" y1="3610" x2="1744" y2="3610"/>
<text x="1567" y="3625"><tspan x="1567" dy="0">+ remove()</tspan><tspan x="1567" dy="14.6">+ acquire()</tspan><tspan x="1567" dy="14.6">+ tryacquire()</tspan><tspan x="1567" dy="14.6">+ release()</tspan><tspan x="1567" dy="14.6">+ acquire_read()</tspan><tspan x="1567" dy="14.6">+ acquire_write()</tspan><tspan x="1567" dy="14.6">+ tryacquire_read()</tspan><tspan x="1567" dy="14.6">+ tryacquire_write()</tspan><tspan x="1567" dy="14.6">+ tryacquire_write_upgrade()</tspan></text></g>

<g id="TAO_Incoming_Message_Queue"><rect class="b" x="1768" y="3559" width="189" height="193"/>
<text x="1778" y="3575">TAO_Incoming_Message</text><text class="t" x="1862" y="3590">_Queue</text><line class="sb" x1="1768" y1="3599" x2="1957" y2="3599"/><line class="sb" x1="1768" y1="3625" x2="1957" y2="3625"/>
<text x="1778" y="3616">- size_</text>
<text x="1778" y="3640"><tspan x="1778" dy="0">+ TAO_Incoming_Message</tspan><tspan x="1778" dy="14.6">_Queue()</tspan><tspan x="1778" dy="14.6">+ ~TAO_Incoming_Message</tspan><tspan x="1778" dy="14.6">_Queue()</tspan><tspan x="1778" dy="14.6">+ dequeue_head()</tspan><tspan x="1778" dy="14.6">+ dequeue_tail()</tspan><tspan x="1778" dy="14.6">+ enqueue_tail()</tspan><tspan x="1778" dy="14.6">+ queue_length()</tspan></text></g>

<g id="ACE_Hash_Map_Entry_EXT_INT"><rect class="b" x="2075" y="3552" width="186" height="208"/>
<text x="2085" y="3568">ACE_Hash_Map_Entry</text><text class="t" x="2168" y="3583">&lt; EXT_ID, INT_ID &gt;</text><line class="sb" x1="2075" y1="3593" x2="2261" y2="3593"/><line class="sb" x1="2075" y1="3631" x2="2261" y2="3631"/>
<text x="2085" y="3608"><tspan x="2085" dy="0">+ next_</tspan><tspan x="2085" dy="14.6">+ prev_</tspan></text>
<text x="2085" y="3646"><tspan x="2085" dy="0">+ ACE_Hash_Map_Entry()</tspan><tspan x="2085" dy="14.6">+ ACE_Hash_Map_Entry()</tspan><tspan x="2085" dy="14.6">+ ~ACE_Hash_Map_Entry()</tspan><tspan x="2085" dy="14.6">+ key()</tspan><tspan x="2085" dy="14.6">+ key()</tspan><tspan x="2085" dy="14.6">+ item()</tspan><tspan x="2085" dy="14.6">+ item()</tspan><tspan x="2085" dy="14.6">+ dump()</tspan></text></g>

<g id="TAO_GIOP_Message_Base"><rect class="b" x="2504" y="3457" width="214" height="398"/>
<text class="t" x="2611" y="3475">TAO_GIOP_Message_Base</text><line class="sb" x1="2504" y1="3480" x2="2718" y2="3480"/><line class="sb" x1="2504" y1="3512" x2="2718" y2="3512"/>
<text x="2514" y="3527"><tspan x="2514" dy="0">+ TAO_GIOP_Message_Base()</tspan><tspan x="2514" dy="14.6">+ ~TAO_GIOP_Message_Base()</tspan><tspan x="2514" dy="14.6">+ init()</tspan><tspan x="2514" dy="14.6">+ generate_request_header()</tspan><tspan x="2514" dy="14.6">+ generate_locate_request</tspan><tspan x="2514" dy="14.6">_header()</tspan><tspan x="2514" dy="14.6">+ generate_reply_header()</tspan><tspan x="2514" dy="14.6">+ generate_fragment_header()</tspan><tspan x="2514" dy="14.6">+ format_message()</tspan><tspan x="2514" dy="14.6">+ parse_next_message()</tspan><tspan x="2514" dy="14.6">+ extract_next_message()</tspan><tspan x="2514" dy="14.6">and 11 more...</tspan><tspan x="2514" dy="14.6">- decompress()</tspan><tspan x="2514" dy="14.6">- process_request()</tspan><tspan x="2514" dy="14.6">- process_locate_request()</tspan><tspan x="2514" dy="14.6">- get_parser()</tspan><tspan x="2514" dy="14.6">- dump_consolidated_msg()</tspan><tspan x="2514" dy="14.6">- dump_msg()</tspan><tspan x="2514" dy="14.6">- write_protocol_header()</tspan><tspan x="2514" dy="14.6">- make_send_locate_reply()</tspan><tspan x="2514" dy="14.6">- send_error()</tspan><tspan x="2514" dy="14.6">- send_close_connection()</tspan><tspan x="2514" dy="14.6">and 6 more...</tspan></text></g>

<g id="ACE_Event_Handler"><rect class="r" x="1265" y="4255" width="153" height="80"/>
<text class="t" x="1341" y="4273">ACE_Event_Handler</text><line class="sr" x1="1265" y1="4281" x2="1418" y2="4281"/><line class="sr" x1="1265" y1="4306" x2="1418" y2="4306"/>
<text x="1275" y="4298">- priority_</text></g>

<g id="TAO_Transport_Timer"><rect class="b" x="1296" y="4752" width="170" height="91"/>
<text class="t" x="1381" y="4770">TAO_Transport_Timer</text><line class="sb" x1="1296" y1="4777" x2="1466" y2="4777"/><line class="sb" x1="1296" y1="4802" x2="1466" y2="4802"/>
<text x="1306" y="4818"><tspan x="1306" dy="0">+ TAO_Transport_Timer()</tspan><tspan x="1306" dy="14.6">+ handle_timeout()</tspan></text></g>

<g id="TAO_Transport_Mux_Strategy"><rect class="b" x="1518" y="4679" width="219" height="237"/>
<text class="t" x="1627" y="4697">TAO_Transport_Mux_Strategy</text><line class="sb" x1="1518" y1="4704" x2="1737" y2="4704"/><line class="sb" x1="1518" y1="4729" x2="1737" y2="4729"/>
<text x="1528" y="4744"><tspan x="1528" dy="0">+ TAO_Transport_Mux_Strategy()</tspan><tspan x="1528" dy="14.6">+ ~TAO_Transport_Mux</tspan><tspan x="1528" dy="14.6">_Strategy()</tspan><tspan x="1528" dy="14.6">+ request_id()</tspan><tspan x="1528" dy="14.6">+ bind_dispatcher()</tspan><tspan x="1528" dy="14.6">+ unbind_dispatcher()</tspan><tspan x="1528" dy="14.6">+ reply_timed_out()</tspan><tspan x="1528" dy="14.6">+ dispatch_reply()</tspan><tspan x="1528" dy="14.6">+ idle_after_send()</tspan><tspan x="1528" dy="14.6">+ idle_after_reply()</tspan><tspan x="1528" dy="14.6">+ connection_closed()</tspan><tspan x="1528" dy="14.6">+ has_request()</tspan></text></g>

<g id="TAO_Wait_Strategy"><rect class="b" x="1788" y="4686" width="167" height="222"/>
<text class="t" x="1871" y="4704">TAO_Wait_Strategy</text><line class="sb" x1="1788" y1="4711" x2="1955" y2="4711"/><line class="sb" x1="1788" y1="4736" x2="1955" y2="4736"/>
<text x="1798" y="4727"># is_registered_</text>
<text x="1798" y="4751"><tspan x="1798" dy="0">+ TAO_Wait_Strategy()</tspan><tspan x="1798" dy="14.6">+ ~TAO_Wait_Strategy()</tspan><tspan x="1798" dy="14.6">+ sending_request()</tspan><tspan x="1798" dy="14.6">+ finished_request()</tspan><tspan x="1798" dy="14.6">+ wait()</tspan><tspan x="1798" dy="14.6">+ register_handler()</tspan><tspan x="1798" dy="14.6">+ non_blocking()</tspan><tspan x="1798" dy="14.6">+ can_process_upcalls()</tspan><tspan x="1798" dy="14.6">+ defer_upcall()</tspan><tspan x="1798" dy="14.6">+ is_registered()</tspan><tspan x="1798" dy="14.6">+ is_registered()</tspan></text></g>
</svg>
